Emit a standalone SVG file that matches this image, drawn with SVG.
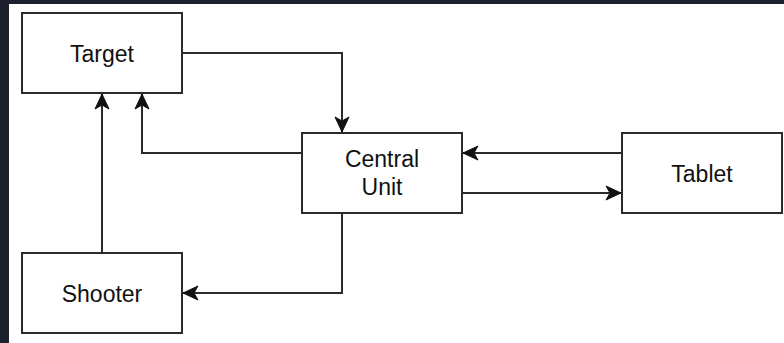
<svg xmlns="http://www.w3.org/2000/svg" width="784" height="343" viewBox="0 0 784 343">
  <style>
    .box { fill: #ffffff; stroke: #2b2b2b; stroke-width: 2; }
    .lbl { font-family: "Liberation Sans", Arial, Helvetica, sans-serif; font-size: 23px; fill: #111111; text-anchor: middle; }
    .edge { fill: none; stroke: #2b2b2b; stroke-width: 2; marker-end: url(#arrow); }
  </style>
  <defs>
    <marker id="arrow" markerUnits="userSpaceOnUse" markerWidth="18" markerHeight="18" refX="16" refY="9" orient="auto">
      <path d="M16,9 L1,2 L5,9 L1,16 Z" fill="#111111" stroke="#111111" stroke-width="1" stroke-linejoin="miter"/>
    </marker>
  </defs>
  <rect x="0" y="0" width="784" height="343" fill="#1c202c"/>
  <rect x="9" y="4" width="775" height="339" fill="#ffffff"/>

  <g id="connectors">
    <path class="edge" d="M182,53 H342 V132"/>
    <path class="edge" d="M302,153 H142 V94"/>
    <path class="edge" d="M102,253 V94"/>
    <path class="edge" d="M342,213 V293 H183"/>
    <path class="edge" d="M622,153 H463"/>
    <path class="edge" d="M462,193 H621"/>
  </g>

  <g id="target">
    <rect class="box" x="22" y="13" width="160" height="80"/>
    <text class="lbl" x="102" y="62">Target</text>
  </g>
  <g id="central-unit">
    <rect class="box" x="302" y="133" width="160" height="80"/>
    <text class="lbl" x="382" y="167">Central</text>
    <text class="lbl" x="382" y="195">Unit</text>
  </g>
  <g id="tablet">
    <rect class="box" x="622" y="133" width="160" height="80"/>
    <text class="lbl" x="702" y="182">Tablet</text>
  </g>
  <g id="shooter">
    <rect class="box" x="22" y="253" width="160" height="80"/>
    <text class="lbl" x="102" y="302">Shooter</text>
  </g>
</svg>
